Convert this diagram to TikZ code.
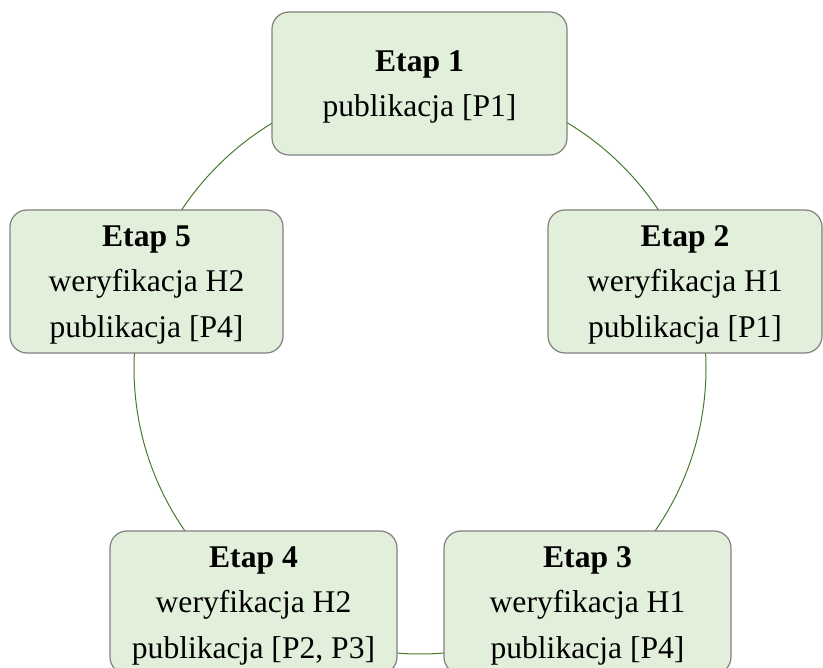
\documentclass[tikz,border=0pt]{standalone}
\usepackage{fontspec}
\setmainfont{Liberation Serif}
\definecolor{boxfill}{HTML}{E2EFDA}
\definecolor{boxedge}{HTML}{808080}
\definecolor{ringline}{HTML}{4A7A2C}
\begin{document}
\begin{tikzpicture}[x=1pt,y=-1pt,
  stagebox/.style={draw=boxedge, line width=1.2pt, fill=boxfill,
    rounded corners=17pt, minimum height=143pt, inner sep=0pt,
    text depth=0pt, align=center, font=\fontsize{31.6}{45.5}\selectfont},
  ring/.style={draw=ringline, line width=1pt}]
  \useasboundingbox (0,0) rectangle (823,668);
  % cycle ring behind the stage boxes
  \draw[ring] (420,368) circle[radius=286pt];
  % stage boxes
  \node[stagebox, minimum width=295pt] (e1) at (419.5,83.5)
    {\textbf{Etap 1}\\publikacja [P1]};
  \node[stagebox, minimum width=274pt] (e2) at (685,281.5)
    {\textbf{Etap 2}\\weryfikacja H1\\publikacja [P1]};
  \node[stagebox, minimum width=287pt] (e3) at (587.5,602.5)
    {\textbf{Etap 3}\\weryfikacja H1\\publikacja [P4]};
  \node[stagebox, minimum width=287pt] (e4) at (253.5,602.5)
    {\textbf{Etap 4}\\weryfikacja H2\\publikacja [P2, P3]};
  \node[stagebox, minimum width=273pt] (e5) at (146.5,281.5)
    {\textbf{Etap 5}\\weryfikacja H2\\publikacja [P4]};
\end{tikzpicture}
\end{document}
